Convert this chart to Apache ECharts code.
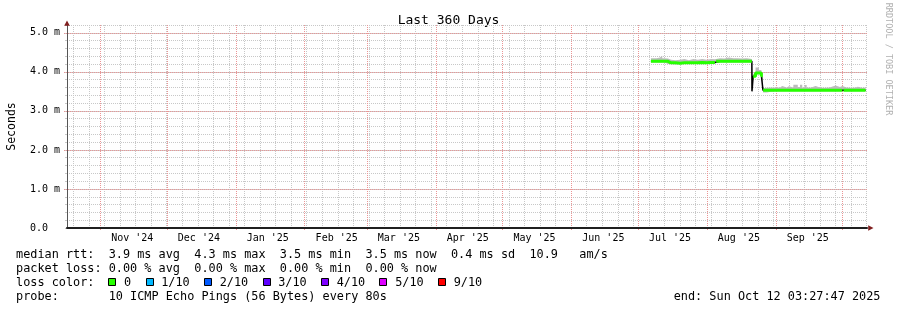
<!DOCTYPE html>
<html><head><meta charset="utf-8">
<script src="https://cdn.jsdelivr.net/npm/echarts@6/dist/echarts.min.js"></script>
<style>html,body{margin:0;padding:0;background:#fff}#c{width:897px;height:310px}</style>
</head><body><div id="c"></div>
<script>
// ---------- data ----------
const titleText = 'Last 360 Days';
const rangeStart = '2024-10-17 03:27:47';
const rangeEnd = '2025-10-12 03:27:47';
const monthStarts = ['2024-11-01','2024-12-01','2025-01-01','2025-02-01','2025-03-01','2025-04-01','2025-05-01','2025-06-01','2025-07-01','2025-08-01','2025-09-01','2025-10-01'];
const monthLabels = ["Nov '24","Dec '24","Jan '25","Feb '25","Mar '25","Apr '25","May '25","Jun '25","Jul '25","Aug '25","Sep '25"];
const monthLabelAt = ['2024-11-15 12:00','2024-12-15 12:00','2025-01-15 12:00','2025-02-15 12:00','2025-03-15 12:00','2025-04-15 12:00','2025-05-15 12:00','2025-06-15 12:00','2025-07-15 12:00','2025-08-15 12:00','2025-09-15 12:00'];
const firstWeekTick = '2024-10-20';
const yTickValues = [0, 1, 2, 3, 4, 5];
const yTickLabels = ['0.0', '1.0 m', '2.0 m', '3.0 m', '4.0 m', '5.0 m'];

const sampleTimes = [
 '2025-07-06 22:00','2025-07-08 00:00','2025-07-09 12:00','2025-07-11 00:00','2025-07-12 00:00','2025-07-13 00:00',
 '2025-07-14 14:00','2025-07-16 00:00','2025-07-18 00:00','2025-07-20 00:00','2025-07-22 00:00','2025-07-24 00:00',
 '2025-07-26 00:00','2025-07-28 00:00','2025-07-30 00:00','2025-08-01 00:00','2025-08-03 00:00','2025-08-04 17:00',
 '2025-08-04 18:00','2025-08-05 06:00','2025-08-07 00:00','2025-08-09 00:00','2025-08-11 00:00','2025-08-13 00:00',
 '2025-08-15 00:00','2025-08-17 00:00','2025-08-19 00:00','2025-08-21 08:00','2025-08-21 09:00','2025-08-21 22:00',
 '2025-08-23 00:00','2025-08-24 12:00','2025-08-25 15:00','2025-08-26 07:00','2025-08-26 08:00','2025-08-26 09:00',
 '2025-08-28 00:00','2025-08-30 00:00','2025-09-01 00:00','2025-09-03 00:00','2025-09-04 00:00','2025-09-06 00:00',
 '2025-09-07 00:00','2025-09-09 00:00','2025-09-11 00:00','2025-09-12 00:00','2025-09-13 00:00','2025-09-14 00:00',
 '2025-09-15 00:00','2025-09-17 00:00','2025-09-19 00:00','2025-09-21 00:00','2025-09-23 00:00','2025-09-25 00:00',
 '2025-09-26 00:00','2025-09-28 00:00','2025-09-30 00:00','2025-10-01 01:00','2025-10-01 02:00','2025-10-01 14:00',
 '2025-10-03 00:00','2025-10-05 00:00','2025-10-07 00:00','2025-10-08 00:00','2025-10-10 00:00','2025-10-11 12:00'
];
// median rtt (ms)
const medianRtt = [
 4.27,4.27,4.27,4.27,4.27,4.27,
 4.23,4.23,4.22,4.23,4.23,4.23,
 4.23,4.24,4.23,4.24,4.24,4.24,
 4.29,4.27,4.27,4.27,4.27,4.27,
 4.27,4.27,4.27,4.27,3.50,3.89,
 3.97,3.97,3.90,3.90,3.53,3.53,
 3.53,3.53,3.53,3.53,3.53,3.53,
 3.53,3.53,3.53,3.53,3.53,3.53,
 3.53,3.53,3.53,3.53,3.53,3.53,
 3.53,3.53,3.53,3.53,3.57,3.53,
 3.53,3.53,3.53,3.53,3.53,3.53
];
// median drawn in loss colour "0" (null where only the thin line shows)
const medianLoss0 = [
 4.27,4.27,4.27,4.27,4.27,4.27,
 4.23,4.23,4.22,4.23,4.23,4.23,
 4.23,4.24,4.23,4.24,4.24,4.24,
 null,4.27,4.27,4.27,4.27,4.27,
 4.27,4.27,4.27,4.27,null,3.89,
 3.97,3.97,3.90,3.90,null,3.53,
 3.53,3.53,3.53,3.53,3.53,3.53,
 3.53,3.53,3.53,3.53,3.53,3.53,
 3.53,3.53,3.53,3.53,3.53,3.53,
 3.53,3.53,3.53,3.53,null,3.53,
 3.53,3.53,3.53,3.53,3.53,3.53
];
// smoke (ping spread) lower / upper bounds
const smokeLow = [
 4.24,4.24,4.24,4.24,4.24,4.24,
 4.20,4.20,4.19,4.20,4.20,4.20,
 4.20,4.21,4.20,4.21,4.21,4.21,
 4.24,4.24,4.24,4.24,4.24,4.24,
 4.24,4.24,4.24,4.24,3.48,3.86,
 3.93,3.94,3.87,3.87,3.47,3.47,
 3.47,3.49,3.50,3.50,3.50,3.50,
 3.50,3.50,3.50,3.50,3.50,3.50,
 3.50,3.50,3.50,3.50,3.50,3.50,
 3.50,3.50,3.50,3.50,3.51,3.50,
 3.50,3.50,3.50,3.50,3.50,3.50
];
const smokeHigh = [
 4.35,4.35,4.37,4.41,4.35,4.34,
 4.31,4.30,4.31,4.33,4.30,4.33,
 4.31,4.33,4.31,4.33,4.32,4.32,
 4.33,4.35,4.34,4.37,4.35,4.35,
 4.34,4.35,4.33,4.33,3.52,3.95,
 4.11,4.05,3.97,3.97,3.58,3.59,
 3.60,3.60,3.60,3.64,3.60,3.63,
 3.60,3.67,3.61,3.67,3.60,3.66,
 3.60,3.64,3.60,3.59,3.60,3.61,
 3.65,3.61,3.64,3.61,3.61,3.60,
 3.59,3.60,3.62,3.59,3.60,3.59
];

const legendLines = [
 'median rtt:  3.9 ms avg  4.3 ms max  3.5 ms min  3.5 ms now  0.4 ms sd  10.9   am/s',
 'packet loss: 0.00 % avg  0.00 % max  0.00 % min  0.00 % now',
 'loss color:',
 'probe:       10 ICMP Echo Pings (56 Bytes) every 80s'
];
const endText = 'end: Sun Oct 12 03:27:47 2025';
const lossLabels = ['0', '1/10', '2/10', '3/10', '4/10', '5/10', '9/10'];
const lossColors = ['#26ff00', '#00b8ff', '#0059ff', '#5e00ff', '#7e00ff', '#dd00ff', '#ff0000'];
const sideText = 'RRDTOOL / TOBI OETIKER';

// ---------- helpers ----------
function ts(s) {
  const m = s.match(/(\d+)-(\d+)-(\d+)(?:[ T](\d+):(\d+)(?::(\d+))?)?/);
  return Date.UTC(+m[1], +m[2] - 1, +m[3], +(m[4] || 0), +(m[5] || 0), +(m[6] || 0));
}
const T0 = ts(rangeStart), T1 = ts(rangeEnd);
const Y_MAX = 5.2;
const DAY = 86400000;
const weekTicks = [];
for (let t = ts(firstWeekTick); t < T1; t += 7 * DAY) weekTicks.push(t);
const monthTicks = monthStarts.map(ts);
const labelTicks = monthLabelAt.map(ts);
const times = sampleTimes.map(ts);
const zip = arr => times.map((t, i) => [t, arr[i]]);

const MONO = 'DejaVu Sans Mono';
const FS = 11.85;
const MINOR = '#c8c8c8';
const MAJOR = '#eb9595';
const ARROW = '#801f1f';
const gridL = 67, gridT = 25, gridW = 800, gridH = 203;
const gridR = gridL + gridW, gridB = gridT + gridH;

const graphics = [];
graphics.push({ type: 'text', x: 448.5, y: 20.5, style: { text: titleText, fontFamily: MONO, fontSize: 13, fill: '#000', align: 'center', verticalAlign: 'middle' } });
graphics.push({ type: 'polygon', shape: { points: [[gridL, gridT - 4.5], [gridL - 2.8, gridT + 0.8], [gridL + 2.8, gridT + 0.8]] }, style: { fill: ARROW }, z: 10 });
graphics.push({ type: 'polygon', shape: { points: [[gridR + 6.5, gridB], [gridR + 1.2, gridB - 2.8], [gridR + 1.2, gridB + 2.8]] }, style: { fill: ARROW }, z: 10 });
const lineY = [254.5, 268.5, 282.5, 296.5];
legendLines.forEach((txt, i) => {
  graphics.push({ type: 'text', x: 16, y: lineY[i], style: { text: txt, fontFamily: MONO, fontSize: FS, fill: '#000', align: 'left', verticalAlign: 'middle' } });
});
graphics.push({ type: 'text', x: 880.5, y: lineY[3], style: { text: endText, fontFamily: MONO, fontSize: FS, fill: '#000', align: 'right', verticalAlign: 'middle' } });
const charW = 7.1;
let cx = 108.3;
lossLabels.forEach((lab, i) => {
  graphics.push({ type: 'rect', shape: { x: Math.round(cx) + 0.5, y: 278.5, width: 7, height: 7 }, style: { fill: lossColors[i], stroke: '#000', lineWidth: 1 } });
  const tx = cx + 15.7;
  graphics.push({ type: 'text', x: tx, y: lineY[2], style: { text: lab, fontFamily: MONO, fontSize: FS, fill: '#000', align: 'left', verticalAlign: 'middle' } });
  cx = tx + lab.length * charW + 14.4;
});
graphics.push({ type: 'text', x: 888.5, y: 59, rotation: -Math.PI / 2, style: { text: sideText, fontFamily: MONO, fontSize: 8.5, fill: '#b0b0b0', align: 'center', verticalAlign: 'middle' } });

// major grid lines (month starts / whole ms) drawn through the axis scales
const vMajor = {
  type: 'custom', name: 'monthGrid', xAxisIndex: 0, yAxisIndex: 0, silent: true, z: 1, clip: false,
  encode: { x: 0, y: 1 },
  data: monthTicks.map(t => [t, 0]),
  renderItem: (params, api) => {
    const p0 = api.coord([api.value(0), 0]);
    const p1 = api.coord([api.value(0), Y_MAX]);
    const x = Math.round(p0[0]) + 0.5;
    return { type: 'line', shape: { x1: x, y1: Math.round(p1[1]), x2: x, y2: Math.round(p0[1]) + 3 }, style: { stroke: MAJOR, lineWidth: 1, lineDash: [1, 1] } };
  }
};
const hMajor = {
  type: 'custom', name: 'msGrid', xAxisIndex: 0, yAxisIndex: 0, silent: true, z: 1, clip: false,
  encode: { x: 0, y: 1 },
  data: yTickValues.filter(v => v > 0).map(v => [T0, v]),
  renderItem: (params, api) => {
    const p0 = api.coord([T0, api.value(1)]);
    const p1 = api.coord([T1, api.value(1)]);
    const y = Math.round(p0[1]) + 0.5;
    return { type: 'line', shape: { x1: Math.round(p0[0]) - 3, y1: y, x2: Math.round(p1[0]), y2: y }, style: { stroke: MAJOR, lineWidth: 1, lineDash: [1, 1] } };
  }
};

const chart = echarts.init(document.getElementById('c'), null, { renderer: 'canvas' });
chart.setOption({
  animation: false,
  backgroundColor: '#ffffff',
  grid: { left: gridL, top: gridT, width: gridW, height: gridH, outerBoundsMode: 'none' },
  xAxis: [
    { type: 'time', position: 'bottom', min: T0, max: T1, z: 4,
      axisLine: { show: true, lineStyle: { color: '#1f1f1f', width: 2 } },
      axisTick: { show: false }, axisLabel: { show: false }, splitLine: { show: false } },
    { type: 'value', position: 'bottom', min: T0, max: T1, z: 1,
      axisLine: { show: false }, axisLabel: { show: false },
      axisTick: { show: false, customValues: weekTicks },
      splitLine: { show: true, lineStyle: { color: MINOR, width: 1, type: [1, 1] } } },
    { type: 'value', position: 'bottom', min: T0, max: T1, z: 4,
      axisLine: { show: false }, axisTick: { show: false }, splitLine: { show: false },
      axisLabel: { show: true, customValues: labelTicks, margin: 5, fontFamily: MONO, fontSize: 10, color: '#000',
        formatter: v => { const i = labelTicks.findIndex(t => Math.abs(t - v) < 60000); return i >= 0 ? monthLabels[i] : ''; } } }
  ],
  yAxis: [
    { type: 'value', position: 'left', min: 0, max: Y_MAX, interval: 0.2, z: 0,
      name: 'Seconds', nameLocation: 'middle', nameGap: 49, nameRotate: 90,
      nameTextStyle: { fontFamily: MONO, fontSize: 11.5, color: '#000' },
      axisLine: { show: true, lineStyle: { color: '#555', width: 1 } },
      axisTick: { show: true, length: 2, lineStyle: { color: MINOR, width: 1 } },
      axisLabel: { show: true, align: 'left', margin: 37, fontFamily: MONO, fontSize: 10, color: '#000',
        formatter: v => { const i = yTickValues.findIndex(t => Math.abs(t - v) < 1e-6); return i >= 0 ? yTickLabels[i] : ''; } },
      splitLine: { show: true, showMinLine: false, lineStyle: { color: MINOR, width: 1, type: [1, 1] } } }
  ],
  series: [
    vMajor, hMajor,
    { name: 'smokeBase', type: 'line', xAxisIndex: 0, yAxisIndex: 0, stack: 'smoke', step: 'end', symbol: 'none', silent: true,
      lineStyle: { width: 0, opacity: 0 }, data: zip(smokeLow), z: 2 },
    { name: 'smoke', type: 'line', xAxisIndex: 0, yAxisIndex: 0, stack: 'smoke', step: 'end', symbol: 'none', silent: true,
      lineStyle: { width: 0, opacity: 0 }, areaStyle: { color: '#bcbcbc', opacity: 1 },
      data: times.map((t, i) => [t, +(smokeHigh[i] - smokeLow[i]).toFixed(3)]), z: 3 },
    { name: 'median', type: 'line', xAxisIndex: 0, yAxisIndex: 0, step: 'end', symbol: 'none', silent: true,
      lineStyle: { color: '#000', width: 1.5 }, data: zip(medianRtt), z: 4 },
    { name: 'loss 0', type: 'line', xAxisIndex: 0, yAxisIndex: 0, step: 'end', symbol: 'none', silent: true, connectNulls: false,
      lineStyle: { color: lossColors[0], width: 3 }, data: zip(medianLoss0), z: 5 }
  ],
  graphic: graphics
});
</script>
</body></html>
